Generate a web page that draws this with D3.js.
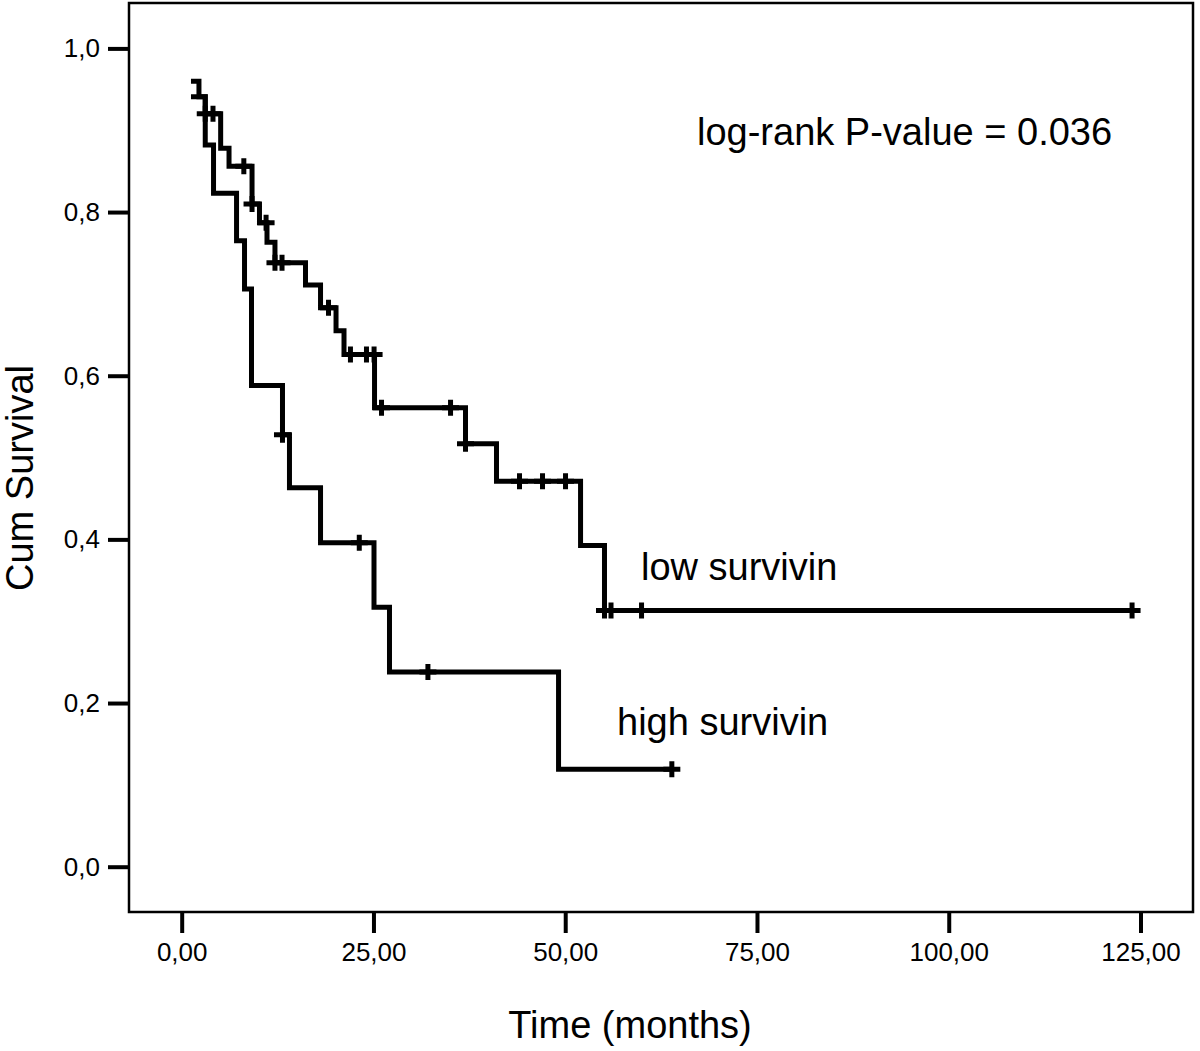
<!DOCTYPE html>
<html>
<head>
<meta charset="utf-8">
<script src="https://cdn.jsdelivr.net/npm/d3@7"></script>
<style>
  html, body { margin: 0; padding: 0; background: #fff; }
  svg { display: block; font-family: "Liberation Sans", Arial, Helvetica, sans-serif; }
</style>
</head>
<body>
<svg id="chart" width="1200" height="1051"></svg>
<script>
// ---- data ----
const lowTimes  = [1.21, 2.25, 3.07, 5.08, 6.17, 9.17, 10.14, 11.12, 12.16, 16.14, 18.1, 20.12, 21.16, 25.14, 37.0, 41.04, 52.0, 55.12];
const lowSurv   = [0.960, 0.941, 0.920, 0.878, 0.856, 0.810, 0.787, 0.763, 0.738, 0.711, 0.683, 0.655, 0.626, 0.561, 0.517, 0.471, 0.3925, 0.313];
const lowCensor = [3.07, 4.08, 8.1, 9.17, 11.0, 12.16, 13.08, 19.14, 22.0, 24.09, 25.08, 26.05, 35.05, 37.0, 44.04, 47.04, 50.04, 55.12, 55.97, 59.95, 123.9];

const highTimes  = [1.21, 3.07, 4.15, 7.15, 8.19, 9.1, 13.14, 14.05, 18.1, 25.07, 27.09, 49.13];
const highSurv   = [0.941, 0.882, 0.823, 0.765, 0.706, 0.588, 0.528, 0.463, 0.396, 0.317, 0.238, 0.119];
const highCensor = [13.14, 23.15, 32.1, 63.9];

const xTicks = [0, 25, 50, 75, 100, 125];
const yTicks = [0, 0.2, 0.4, 0.6, 0.8, 1.0];

const seriesLabels = ["low survivin", "high survivin"];
const annotation = "log-rank P-value = 0.036";
const xTitle = "Time (months)";
const yTitle = "Cum Survival";

// ---- layout ----
const svg = d3.select("#chart");
const frame = {x0: 129, y0: 3, x1: 1193, y1: 912};
const x = d3.scaleLinear().domain([0, 125]).range([181.7, 1140.5]);
const y = d3.scaleLinear().domain([0, 1]).range([866.7, 48.4]);

const loc = d3.formatLocale({decimal: ",", thousands: ".", grouping: [3], currency: ["", ""]});
const fx = loc.format(".2f");
const fy = loc.format(".1f");

// frame
svg.append("rect")
  .attr("x", frame.x0).attr("y", frame.y0)
  .attr("width", frame.x1 - frame.x0).attr("height", frame.y1 - frame.y0)
  .attr("fill", "none").attr("stroke", "#000").attr("stroke-width", 2.5);

// axes
const xAxis = d3.axisBottom(x).tickValues(xTicks).tickFormat(fx).tickSize(21).tickPadding(10);
const gx = svg.append("g").attr("transform", `translate(0,${frame.y1})`).call(xAxis);
gx.select(".domain").remove();
gx.selectAll(".tick line").attr("stroke", "#000").attr("stroke-width", 4);
gx.selectAll(".tick text").attr("font-size", 26).attr("fill", "#000")
  .attr("font-family", "Liberation Sans, Arial, sans-serif");

const yAxis = d3.axisLeft(y).tickValues(yTicks).tickFormat(fy).tickSize(21).tickPadding(8);
const gy = svg.append("g").attr("transform", `translate(${frame.x0},0)`).call(yAxis);
gy.select(".domain").remove();
gy.selectAll(".tick line").attr("stroke", "#000").attr("stroke-width", 4);
gy.selectAll(".tick text").attr("font-size", 26).attr("fill", "#000")
  .attr("font-family", "Liberation Sans, Arial, sans-serif");

// curves
function survAt(times, surv, t) {
  let s = surv[0];
  for (let i = 0; i < times.length; i++) if (times[i] <= t + 1e-9) s = surv[i];
  return s;
}
function drawCurve(times, surv, censor) {
  const pts = times.map((t, i) => [t, surv[i]]);
  const end = d3.max(censor);
  pts.push([end, surv[surv.length - 1]]);
  const line = d3.line().x(d => x(d[0])).y(d => y(d[1])).curve(d3.curveStepAfter);
  svg.append("path").attr("d", line(pts))
    .attr("fill", "none").attr("stroke", "#000").attr("stroke-width", 5)
    .attr("stroke-linejoin", "miter").attr("stroke-linecap", "butt");
  svg.append("g").selectAll("path").data(censor).join("path")
    .attr("d", t => {
      const cx = x(t), cy = y(survAt(times, surv, t));
      return `M${cx - 8.5},${cy}H${cx + 8.5}M${cx},${cy - 8}V${cy + 8}`;
    })
    .attr("fill", "none").attr("stroke", "#000").attr("stroke-width", 5);
}
drawCurve(lowTimes, lowSurv, lowCensor);
drawCurve(highTimes, highSurv, highCensor);

// texts
const tf = "Liberation Sans, Arial, sans-serif";
svg.append("text").attr("x", 697).attr("y", 145).attr("font-size", 38).attr("font-family", tf).text(annotation);
svg.append("text").attr("x", 641).attr("y", 580).attr("font-size", 38).attr("font-family", tf).text(seriesLabels[0]);
svg.append("text").attr("x", 617).attr("y", 735).attr("font-size", 38).attr("font-family", tf).text(seriesLabels[1]);
svg.append("text").attr("x", 630).attr("y", 1038).attr("text-anchor", "middle").attr("font-size", 38).attr("font-family", tf).text(xTitle);
svg.append("text").attr("transform", "translate(33,478) rotate(-90)").attr("text-anchor", "middle")
  .attr("font-size", 38).attr("font-family", tf).text(yTitle);
</script>
</body>
</html>
